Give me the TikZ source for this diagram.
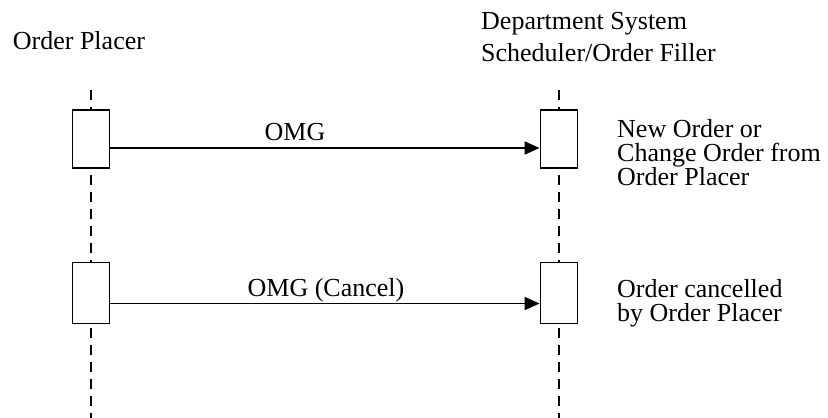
\documentclass[tikz,border=0pt]{standalone}
\usepackage{fontspec}
\setmainfont{Liberation Serif}
\usetikzlibrary{arrows.meta}

\begin{document}
\begin{tikzpicture}[x = 1pt, y = -1pt,
   every node/.style = {inner sep = 0pt, font = \fontsize{26}{24}\selectfont},
   actbox/.style = {draw, line width = 1.9pt, fill = white, minimum width = 37pt},
   lifeline/.style = {line width = 1.7pt, dash pattern = on 10pt off 7pt},
   msg/.style = {line width = 1.9pt, -{Triangle[length = 15pt, width = 13pt]}},
   note/.style = {anchor = base west, align = left}]
   \useasboundingbox (0, 0) rectangle (828, 418);
   % actors (base = last line)
   \node[anchor = base west] (placer) at (12.7, 49) {Order Placer};
   \node[note, font = \fontsize{26}{32.5}\selectfont] (filler) at (481, 61.5)
      {Department System\\Scheduler/Order Filler};
   % lifelines
   \coordinate (ltop) at (91, 90);
   \coordinate (lbot) at (91, 418);
   \coordinate (rtop) at (559, 90);
   \coordinate (rbot) at (559, 418);
   \draw[lifeline] (ltop) -- (lbot);
   \draw[lifeline] (rtop) -- (rbot);
   % activations
   \node[actbox, minimum height = 58pt] (l1) at (91, 139) {};
   \node[actbox, minimum height = 58pt] (r1) at (559, 139) {};
   \node[actbox, minimum height = 61pt] (l2) at (91, 293) {};
   \node[actbox, minimum height = 61pt] (r2) at (559, 293) {};
   % messages
   \draw[msg] ([yshift = -9pt]l1.east) -- ([yshift = -9pt]r1.west);
   \node[anchor = base] (omg) at (295, 140) {OMG};
   \draw[msg] ([yshift = -10.5pt]l2.east) -- ([yshift = -10.5pt]r2.west);
   \node[anchor = base] (cancel) at (326, 296) {OMG (Cancel)};
   % notes
   \node[note] (neworder) at (617, 185)
      {New Order or\\Change Order from\\Order Placer};
   \node[note] (cancelled) at (617, 321.5)
      {Order cancelled\\by Order Placer};
\end{tikzpicture}
\end{document}
